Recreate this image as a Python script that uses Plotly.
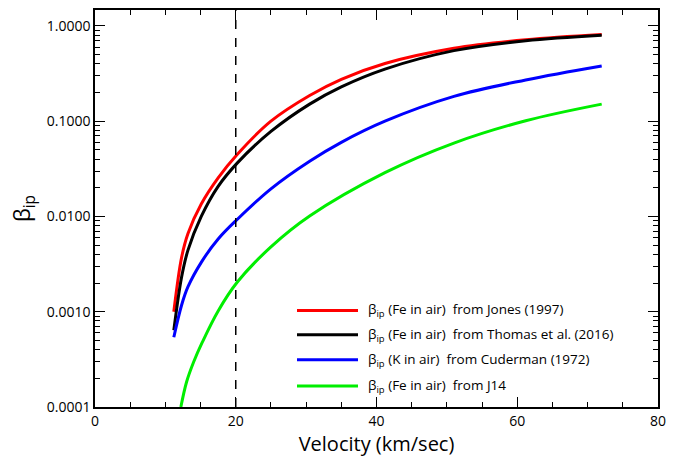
import plotly.graph_objects as go

# ---- data ----
vel = [11.2, 12.3, 13.2, 15.1, 17.5, 20.2, 25.0, 30.5, 35.0, 41.2, 51.0, 61.2, 72.0]
beta_jones = [0.0010, 0.0037, 0.0066, 0.0135, 0.0254, 0.0447, 0.100, 0.186, 0.275, 0.403, 0.582, 0.716, 0.813]
beta_thomas = [0.00064, 0.0023, 0.0044, 0.0100, 0.0207, 0.0363, 0.078, 0.151, 0.229, 0.352, 0.550, 0.700, 0.800]
beta_cuderman = [0.00054, 0.00117, 0.00182, 0.0033, 0.0058, 0.0093, 0.0195, 0.038, 0.060, 0.100, 0.182, 0.271, 0.380]
vel_j14 = [12.2, 13.0, 14.0, 15.25, 17.5, 20.2, 25.0, 30.5, 41.2, 51.0, 61.2, 72.0]
beta_j14 = [0.0001, 0.000182, 0.000295, 0.000479, 0.00102, 0.00204, 0.00479, 0.0101, 0.0288, 0.0589, 0.101, 0.151]
marker_vel = [20, 20]
marker_beta = [0.0001, 1.5]

labels = [
    "β<sub>ip</sub> (Fe in air)  from Jones (1997)",
    "β<sub>ip</sub> (Fe in air)  from Thomas et al. (2016)",
    "β<sub>ip</sub> (K in air)  from Cuderman (1972)",
    "β<sub>ip</sub> (Fe in air)  from J14",
]
colors = ["#ff0000", "#000000", "#0000ff", "#00ee00"]
y_tickvals = [1.0, 0.1, 0.01, 0.001, 0.0001]
y_ticktext = ["1.0000", "0.1000", "0.0100", "0.0010", "0.0001"]
x_tickvals = [0, 20, 40, 60, 80]

FONT = "Open Sans"

fig = go.Figure()
series = [(vel, beta_jones), (vel, beta_thomas), (vel, beta_cuderman), (vel_j14, beta_j14)]
for (xs, ys), c, lab in zip(series, colors, labels):
    fig.add_trace(go.Scatter(x=xs, y=ys, mode="lines", name=lab,
                             line=dict(color=c, width=3, shape="spline", smoothing=1.0),
                             showlegend=False))
fig.add_trace(go.Scatter(x=marker_vel, y=marker_beta, mode="lines",
                         line=dict(color="black", width=1.5, dash="dash"), showlegend=False))

# manual legend (paper coords)
L, R, T, B = 95, 658, 8, 407
W, H = R - L, B - T
def px(x): return (x - L) / W
def py(y): return (B - y) / H
rows = [310, 334.5, 359.5, 386]
shapes, anns = [], []
for yy, c, lab in zip(rows, colors, labels):
    shapes.append(dict(type="line", xref="paper", yref="paper", x0=px(297), x1=px(358),
                       y0=py(yy), y1=py(yy), line=dict(color=c, width=3)))
    anns.append(dict(xref="paper", yref="paper", x=px(366), y=py(yy), text=lab, showarrow=False,
                     xanchor="left", yanchor="middle", font=dict(family=FONT, size=13.5, color="black")))

minor_y = [k * 10 ** n for n in range(-4, 0) for k in range(2, 10)]

fig.update_layout(
    width=689, height=462,
    margin=dict(l=L, r=689 - R, t=T, b=462 - B),
    paper_bgcolor="white", plot_bgcolor="white",
    font=dict(family=FONT, size=14, color="black"),
    shapes=shapes, annotations=anns,
    xaxis=dict(range=[0, 80], tickvals=x_tickvals, ticks="inside", ticklen=10, tickwidth=1,
               tickcolor="black", showline=True, linecolor="black", linewidth=1.5, mirror="ticks",
               showgrid=False, zeroline=False,
               minor=dict(dtick=5, ticks="inside", ticklen=5, tickcolor="black", showgrid=False),
               title=dict(text="Velocity (km/sec)", font=dict(family=FONT, size=20), standoff=8),
               tickfont=dict(family=FONT, size=14)),
    yaxis=dict(type="log", range=[-4, 0.167], tickvals=y_tickvals, ticktext=y_ticktext,
               ticks="inside", ticklen=10, tickwidth=1, tickcolor="black",
               showline=True, linecolor="black", linewidth=1.5, mirror="ticks",
               showgrid=False, zeroline=False,
               minor=dict(tickvals=minor_y, ticks="inside", ticklen=5, tickcolor="black", showgrid=False),
               title=dict(text="β<sub>ip</sub>", font=dict(family=FONT, size=22), standoff=10),
               tickfont=dict(family=FONT, size=14)),
)

fig.write_html("out.html")
